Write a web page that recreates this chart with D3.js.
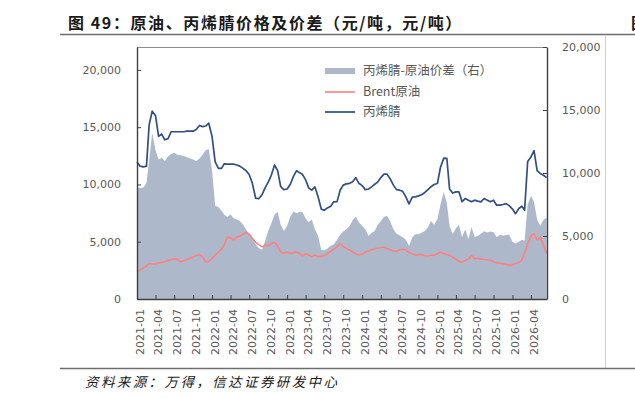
<!DOCTYPE html>
<html>
<head>
<meta charset="utf-8">
<script src="https://cdn.jsdelivr.net/npm/d3@7"></script>
<style>
  html, body { margin: 0; padding: 0; background: #ffffff; }
  svg { display: block; }
</style>
</head>
<body>
<script>
// ---------------- DATA ----------------
const dates = [
"2021-01-01","2021-01-16","2021-02-01","2021-02-16","2021-03-01","2021-03-16","2021-04-01","2021-04-16","2021-05-01","2021-05-16","2021-06-01","2021-06-16",
"2021-07-01","2021-07-16","2021-08-01","2021-08-16","2021-09-01","2021-09-16","2021-10-01","2021-10-16","2021-11-01","2021-11-16","2021-12-01","2021-12-16",
"2022-01-01","2022-01-16","2022-02-01","2022-02-16","2022-03-01","2022-03-16","2022-04-01","2022-04-16","2022-05-01","2022-05-16","2022-06-01","2022-06-16",
"2022-07-01","2022-07-16","2022-08-01","2022-08-16","2022-09-01","2022-09-16","2022-10-01","2022-10-16","2022-11-01","2022-11-16","2022-12-01","2022-12-16",
"2023-01-01","2023-01-16","2023-02-01","2023-02-16","2023-03-01","2023-03-16","2023-04-01","2023-04-16","2023-05-01","2023-05-16","2023-06-01","2023-06-16",
"2023-07-01","2023-07-16","2023-08-01","2023-08-16","2023-09-01","2023-09-16","2023-10-01","2023-10-16","2023-11-01","2023-11-16","2023-12-01","2023-12-16",
"2024-01-01","2024-01-16","2024-02-01","2024-02-16","2024-03-01","2024-03-16","2024-04-01","2024-04-16","2024-05-01","2024-05-16","2024-06-01","2024-06-16",
"2024-07-01","2024-07-16","2024-08-01","2024-08-16","2024-09-01","2024-09-16","2024-10-01","2024-10-16","2024-11-01","2024-11-16","2024-12-01","2024-12-16",
"2025-01-01","2025-01-16","2025-02-01","2025-02-16","2025-03-01","2025-03-16","2025-04-01","2025-04-16","2025-05-01","2025-05-16","2025-06-01","2025-06-16",
"2025-07-01","2025-07-16","2025-08-01","2025-08-16","2025-09-01","2025-09-16","2025-10-01","2025-10-16","2025-11-01","2025-11-16","2025-12-01","2025-12-16",
"2026-01-01","2026-01-16","2026-02-01","2026-02-16","2026-03-01","2026-03-16","2026-04-01","2026-04-16","2026-05-01","2026-05-16","2026-06-01","2026-06-16"
];

// 丙烯腈 (left axis, 元/吨)
const acrylonitrile = [
11970,11600,11540,11600,15200,16400,16000,14200,14400,13900,14000,14600,
14600,14600,14600,14600,14650,14650,14650,14800,15150,15050,15100,15350,
14200,11970,11400,11400,11800,11770,11770,11770,11700,11600,11400,11200,
10850,10100,8800,8750,9100,9700,10200,10800,11700,11200,9800,9550,
9600,10000,10700,11200,11050,10900,10400,9700,9500,9790,8900,7850,
7750,7950,8100,8480,8500,9500,9940,10050,10100,10230,10600,10100,
9900,9550,9600,9790,10000,10200,10600,10900,10900,10500,9940,9550,
9500,9400,8900,8300,8900,8915,9000,9100,9300,9550,9800,10000,
10085,11500,12300,12270,9600,9250,9350,9350,8500,8770,8630,8480,
8630,8550,8480,8770,8630,8480,8630,8190,8190,8250,8330,8150,
7850,7450,7900,8100,7750,12000,12400,12950,11200,10960,10800,10600
];

// Brent原油 (left axis, 元/吨)
const brent = [
2400,2550,2700,2900,3100,3050,3050,3150,3200,3250,3350,3420,
3500,3480,3250,3350,3450,3550,3670,3800,3850,3700,3200,3300,
3550,3820,4100,4350,4700,5400,5350,5150,5400,5500,5650,5800,
5650,5300,4950,4750,4550,4700,4650,4840,4950,4600,4100,4000,
4100,4000,4050,4110,4000,3750,3950,3850,3680,3820,3720,3700,
3800,3950,4150,4350,4550,4840,4600,4420,4280,4100,3950,3850,
3900,4100,4200,4300,4380,4450,4480,4540,4400,4300,4200,4150,
4300,4350,4280,4050,3950,3820,3880,3880,3780,3750,3800,3830,
3950,4100,3970,3880,3800,3680,3450,3300,3230,3350,3500,3800,
3550,3530,3500,3450,3420,3380,3250,3150,3120,3090,3020,2950,
3000,3090,3180,3400,4000,4800,5500,5700,5150,5400,4700,4000
];

// 丙烯腈-原油价差 (right axis, 元/吨)
const spread = [
8850,8800,8850,9200,11000,13200,11800,11100,11200,10950,11300,11500,
11600,11450,11400,11350,11250,11150,11070,10950,11150,11450,11800,11900,
10200,7400,7300,7000,6700,6500,6700,6400,6300,6200,5900,5500,
5150,4800,4350,4050,3900,4600,5400,6000,6700,6900,5900,5400,
5800,6500,6950,6800,6900,6900,6400,6100,6300,5540,5000,3900,
3850,4000,4230,4330,4700,5100,5350,5530,5800,6250,6550,6100,
5800,5540,5010,5250,5380,5850,6200,6500,6600,6200,5540,5180,
5050,4900,4700,4200,4900,5140,5140,5250,5400,5700,6200,5900,
6300,7500,8500,7600,5800,5150,5600,5900,4900,5540,4750,5700,
4950,5000,5180,5380,5270,5350,5300,4900,5100,5020,5080,5100,
4550,4400,4550,4700,4620,7500,8200,7700,6300,5800,6300,6450
];

const xTickLabels = ["2021-01","2021-04","2021-07","2021-10","2022-01","2022-04","2022-07","2022-10",
  "2023-01","2023-04","2023-07","2023-10","2024-01","2024-04","2024-07","2024-10",
  "2025-01","2025-04","2025-07","2025-10","2026-01","2026-04"];
const leftTicks = [0, 5000, 10000, 15000, 20000];
const rightTicks = [0, 5000, 10000, 15000, 20000];
const seriesNames = ["丙烯腈-原油价差（右）", "Brent原油", "丙烯腈"];
const titleText = "图 49：原油、丙烯腈价格及价差（元/吨，元/吨）";
const sourceText = "资料来源：万得，信达证券研发中心";

// ---------------- CHART ----------------
const W = 635, H = 398;
const plot = { left: 137, right: 547, top: 47, bottom: 299 };
const colors = { area: "#ADB9CA", red: "#FF7F7F", blue: "#2F4F86", axis: "#404040", text: "#595959" };

const parse = d3.timeParse("%Y-%m-%d");
const parseM = d3.timeParse("%Y-%m");
const rows = dates.map((d, i) => ({ date: parse(d), an: acrylonitrile[i], brent: brent[i], spread: spread[i] }));

const x = d3.scaleTime().domain([parse("2021-01-01"), parse("2026-06-18")]).range([plot.left, plot.right]);
const yL = d3.scaleLinear().domain([0, 22000]).range([plot.bottom, plot.top]);
const yR = d3.scaleLinear().domain([0, 20000]).range([plot.bottom, plot.top]);

const svg = d3.select("body").append("svg").attr("width", W).attr("height", H);

// title
svg.append("text").attr("x", 68).attr("y", 29)
  .attr("font-family", "'Noto Sans CJK SC', sans-serif").attr("font-weight", "bold")
  .attr("font-size", 16).attr("letter-spacing", "1.6px").attr("fill", "#1a1a1a")
  .text(titleText);
// edge of the neighbouring figure's title, cut off by the page edge
svg.append("text").attr("x", 631).attr("y", 29)
  .attr("font-family", "'Noto Sans CJK SC', sans-serif").attr("font-weight", "bold")
  .attr("font-size", 16).attr("fill", "#1a1a1a").text("图");

// frame lines
svg.append("line").attr("x1", 60).attr("x2", W).attr("y1", 34.5).attr("y2", 34.5)
  .attr("stroke", "#6e6e6e").attr("stroke-width", 1.3);
svg.append("line").attr("x1", 605.5).attr("x2", 605.5).attr("y1", 35).attr("y2", 368)
  .attr("stroke", "#d0d0d0").attr("stroke-width", 1);
svg.append("line").attr("x1", 60).attr("x2", W).attr("y1", 368.5).attr("y2", 368.5)
  .attr("stroke", "#6e6e6e").attr("stroke-width", 1.3);

// source
svg.append("text").attr("x", 85).attr("y", 387)
  .attr("font-family", "'Noto Sans CJK SC', sans-serif").attr("font-style", "italic")
  .attr("font-size", 13.5).attr("letter-spacing", "2.4px").attr("fill", "#1a1a1a")
  .text(sourceText);

// area
const area = d3.area().x(d => x(d.date)).y0(yR(0)).y1(d => yR(d.spread));
svg.append("path").datum(rows).attr("d", area).attr("fill", colors.area);

// lines
const lineRed = d3.line().x(d => x(d.date)).y(d => yL(d.brent));
const lineBlue = d3.line().x(d => x(d.date)).y(d => yL(d.an));
svg.append("path").datum(rows).attr("d", lineRed).attr("fill", "none")
  .attr("stroke", colors.red).attr("stroke-width", 1.6).attr("stroke-linejoin", "round");
svg.append("path").datum(rows).attr("d", lineBlue).attr("fill", "none")
  .attr("stroke", colors.blue).attr("stroke-width", 1.7).attr("stroke-linejoin", "round");

// top border
svg.append("line").attr("x1", plot.left).attr("x2", plot.right).attr("y1", plot.top + 0.5).attr("y2", plot.top + 0.5)
  .attr("stroke", "#8c8c8c").attr("stroke-width", 1);

// axes
const fmt = d3.format(",");
const gL = svg.append("g").attr("transform", `translate(${plot.left},0)`)
  .call(d3.axisLeft(yL).tickValues(leftTicks).tickFormat(fmt).tickSizeInner(-4).tickSizeOuter(0).tickPadding(16));
const gR = svg.append("g").attr("transform", `translate(${plot.right},0)`)
  .call(d3.axisRight(yR).tickValues(rightTicks).tickFormat(fmt).tickSizeInner(-4).tickSizeOuter(0).tickPadding(15));
const xTicks = xTickLabels.map(parseM);
const gB = svg.append("g").attr("transform", `translate(0,${plot.bottom})`)
  .call(d3.axisBottom(x).tickValues(xTicks).tickFormat((d, i) => xTickLabels[i]).tickSizeInner(-4).tickSizeOuter(0));

[gL, gR, gB].forEach(g => {
  g.select(".domain").attr("stroke", colors.axis).attr("stroke-width", 1.4);
  g.selectAll(".tick line").attr("stroke", colors.axis);
  g.selectAll("text").attr("fill", colors.text).attr("font-family", "'DejaVu Sans', Verdana, sans-serif").attr("font-size", 11);
});
gB.selectAll("text")
  .attr("transform", "rotate(-90)")
  .attr("x", -10).attr("y", 0).attr("dy", "0.55em")
  .style("text-anchor", "end");

// legend
const leg = svg.append("g").attr("font-family", "'Noto Sans CJK SC', sans-serif").attr("font-size", 12.5).attr("fill", colors.text);
leg.append("rect").attr("x", 325).attr("y", 68).attr("width", 30).attr("height", 6).attr("fill", colors.area);
leg.append("text").attr("x", 363).attr("y", 71).attr("dy", "0.35em").text(seriesNames[0]);
leg.append("line").attr("x1", 325).attr("x2", 355).attr("y1", 92).attr("y2", 92).attr("stroke", colors.red).attr("stroke-width", 1.6);
leg.append("text").attr("x", 363).attr("y", 91.5).attr("dy", "0.35em").text(seriesNames[1]);
leg.append("line").attr("x1", 325).attr("x2", 355).attr("y1", 112).attr("y2", 112).attr("stroke", colors.blue).attr("stroke-width", 1.7);
leg.append("text").attr("x", 363).attr("y", 112).attr("dy", "0.35em").text(seriesNames[2]);
</script>
</body>
</html>
